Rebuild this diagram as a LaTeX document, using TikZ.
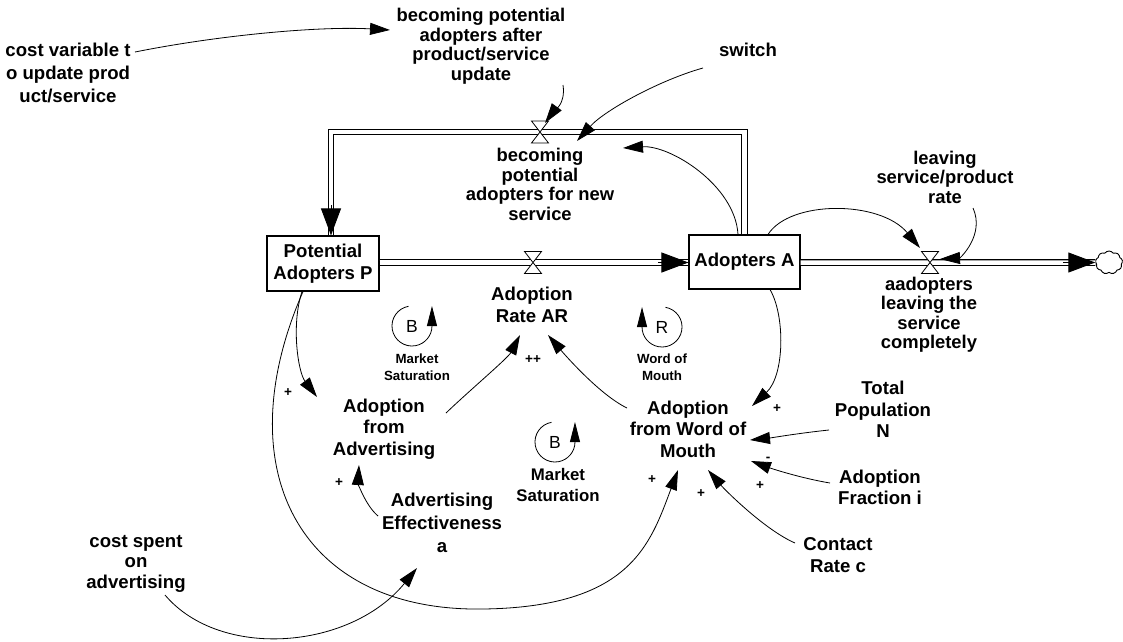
\documentclass[tikz,border=0pt]{standalone}
\usepackage{fontspec}
\setmainfont{Liberation Sans}
\usetikzlibrary{arrows.meta,calc,shapes.symbols}
\tikzset{
  lbl/.style={font=\bfseries\fontsize{18.6}{21.5}\selectfont, align=center, inner sep=0pt},
  lbltop/.style={lbl, font=\bfseries\fontsize{18.4}{19.5}\selectfont},
  lblwide/.style={lbl, font=\bfseries\fontsize{18.6}{23}\selectfont},
  smalllbl/.style={font=\bfseries\fontsize{13.3}{17.5}\selectfont, align=center, inner sep=0pt},
  midlbl/.style={font=\bfseries\fontsize{16.8}{21}\selectfont, align=center, inner sep=0pt},
  stock/.style={lbl, draw, line width=1.1pt, minimum width=112pt, minimum height=55pt},
  link/.style={line width=0.8pt, -{Triangle[length=20pt,width=12pt]}},
  loopar/.style={line width=0.8pt, -{Triangle[length=20pt,width=10pt]}},
  pipe/.style={double distance=4.5pt, line width=1.1pt},
  pipehead/.style={line width=1pt, -{Triangle[length=27pt,width=20pt]}},
  pol/.style={font=\bfseries\fontsize{13.5}{13.5}\selectfont, inner sep=0pt},
  loopsym/.style={font=\fontsize{17.5}{17.5}\selectfont, inner sep=0pt},
  valve/.pic={\draw[line width=0.8pt, fill=white] (-8.5,-11) -- (8.5,-11) -- (-8.5,11) -- (8.5,11) -- cycle;}
}
\begin{document}
\begin{tikzpicture}[x=1pt,y=-1pt]
\useasboundingbox (0,0) rectangle (1123,641);

% ---------- nodes ----------
\node[lblwide] (costvar) at (68,73) {cost variable t\\o update prod\\uct/service};
\node[lbltop] (becafter) at (481,46) {becoming potential\\adopters after\\product/service\\update};
\node[lbl] (switch) at (748,50) {switch};
\node[lbltop] (becnew) at (540,184.5) {becoming\\potential\\adopters for new\\service};
\node[stock] (P) at (323,263.5) {Potential\\Adopters P};
\node[stock, minimum width=111pt, minimum height=54pt] (A) at (744.5,262) {Adopters A};
\node[lbl] (AR) at (532,305) {Adoption\\Rate AR};
\node[lbltop] (leaving) at (945,177) {leaving\\service/product\\rate};
\node[lbltop] (aleave) at (929,314.5) {aadopters\\leaving the\\service\\completely};
\node[lbl] (advad) at (384,429) {Adoption\\from\\Advertising};
\node[lbl] (wom) at (688,429) {Adoption\\from Word of\\Mouth};
\node[lblwide] (adveff) at (442,523) {Advertising\\Effectiveness\\a};
\node[lbl] (totpop) at (883,409.5) {Total\\Population\\N};
\node[lbl] (adfrac) at (880,487.5) {Adoption\\Fraction i};
\node[lbl] (contact) at (838,555) {Contact\\Rate c};
\node[lbl, font=\bfseries\fontsize{18.6}{20.5}\selectfont] (costadv) at (136,563.5) {cost spent\\on\\advertising};

\node[loopsym] (b1) at (412,326) {B};
\node[smalllbl] (ms1) at (417,367) {Market\\Saturation};
\node[loopsym] (r1) at (662,327) {R};
\node[smalllbl] (wm) at (662,367) {Word of\\Mouth};
\node[loopsym] (b2) at (555,442) {B};
\node[midlbl] (ms2) at (558,484.5) {Market\\Saturation};

\coordinate (vtop) at (540,132);
\coordinate (vmain) at (533,262.5);
\coordinate (vleave) at (930,262.5);
\node[cloud, draw, line width=0.9pt, cloud puffs=9, cloud puff arc=110, aspect=1.15,
      minimum width=27pt, minimum height=23pt, inner sep=0pt] (cloud) at (1109,262.5) {};

% ---------- pipes ----------
\draw[pipe] (A.north) |- (vtop) -| ($(P.north)+(8,0)$);
\draw[pipehead] ($(P.north)+(8,-30)$) -- ($(P.north)+(8,0)$);
\draw[pipe] (P.east |- vmain) -- (A.west |- vmain);
\draw[pipehead] ($(A.west |- vmain)+(-30,0)$) -- (A.west |- vmain);
\draw[pipe] (A.east |- vleave) -- (cloud.west);
\draw[pipehead] ($(cloud.west)+(-32,0)$) -- (cloud.west);

\pic at (vtop) {valve};
\pic at (vmain) {valve};
\pic at (vleave) {valve};

% ---------- links ----------
\draw[link] ($(costvar)+(67,-21)$) .. controls (220,35) and (320,26) .. ($(becafter)+(-91,-16)$);
\draw[link] ($(becafter)+(82,39)$) .. controls (566,105) and (553,112) .. ($(vtop)+(5,-9)$);
\draw[link] ($(switch)+(-45,18)$) .. controls (660,80) and (605,110) .. ($(vtop)+(37,9)$);
\draw[link] ($(A.north)+(-6.5,0)$) .. controls (735,185) and (670,145) .. ($(becnew)+(83,-36.5)$);
\draw[link] ($(A.north)+(23.5,0)$) .. controls (790,200) and (880,200) .. ($(vleave)+(-10,-14.5)$);
\draw[link] ($(leaving)+(28,31)$) .. controls (985,235) and (960,258) .. ($(vleave)+(10,-3.5)$);

\draw[link] ($(P.south)+(-21,0)$) .. controls (291,325) and (298,372) .. ($(advad)+(-67,-32)$);
\draw[link] ($(P.south)+(-20,0)$) .. controls (225,470) and (300,612) .. (483,609)
            .. controls (630,607) and (650,545) .. ($(wom)+(-10,41)$);
\draw[link] ($(costadv)+(29,31.5)$) .. controls (220,660) and (350,650) .. ($(adveff)+(-25,45)$);
\draw[link] ($(adveff)+(-64,-7)$) .. controls (365,505) and (358,482) .. ($(advad)+(-25,36)$);
\draw[link] ($(advad)+(62,-16)$) .. controls (470,390) and (508,358) .. ($(AR)+(-12,30)$);
\draw[link] ($(wom)+(-61,-21)$) .. controls (600,395) and (565,355) .. ($(AR)+(16,30)$);
\draw[link] ($(A.south)+(25.5,0)$) .. controls (785,315) and (785,375) .. ($(wom)+(64,-23)$);
\draw[link] ($(totpop)+(-54,20.5)$) .. controls (800,433) and (770,438) .. ($(wom)+(62,11)$);
\draw[link] ($(adfrac)+(-50,-4.5)$) .. controls (800,478) and (770,468) .. ($(wom)+(63,32)$);
\draw[link] ($(contact)+(-43,-12)$) .. controls (765,530) and (725,490) .. ($(wom)+(20,41)$);

% ---------- loop symbols ----------
\draw[loopar] ($(b1)+(-3.5,-19.7)$) arc[start angle=-100, end angle=-360, radius=20] -- ++(0,-20);
\draw[loopar] ($(r1)+(3.5,-19.7)$) arc[start angle=-80, end angle=180, radius=20] -- ++(0,-20);
\draw[loopar] ($(b2)+(-3.5,-19.7)$) arc[start angle=-100, end angle=-360, radius=20] -- ++(0,-20);

% ---------- polarities ----------
\node[pol] (p1) at (288,393) {+};
\node[pol] (p2) at (339,483) {+};
\node[pol] (p3) at (533,360) {++};
\node[pol] (p4) at (652,480) {+};
\node[pol] (p5) at (777,409) {+};
\node[pol] (p6) at (768,459) {-};
\node[pol] (p7) at (760,486) {+};
\node[pol] (p8) at (701,494) {+};
\end{tikzpicture}
\end{document}
